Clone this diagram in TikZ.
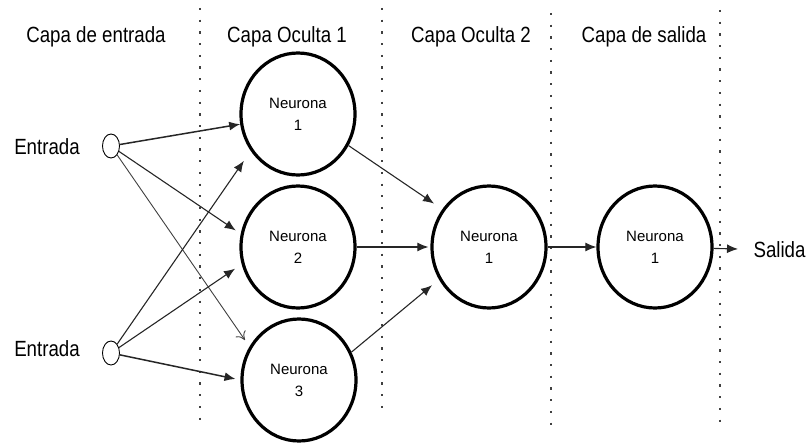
\documentclass[tikz,border=0pt]{standalone}
\usepackage{fontspec}
\setmainfont{Liberation Sans}
\newfontfamily\capafont[FakeStretch=0.85]{Liberation Sans}
\usetikzlibrary{arrows.meta,positioning,shapes.geometric}

\begin{document}
\begin{tikzpicture}[x=1pt, y=-1pt,
  neurona/.style={draw, ellipse, line width=3.2pt, minimum width=114pt, minimum height=122pt, inner sep=0pt, align=center, font=\fontsize{15}{22}\selectfont, text=black},
  entrada/.style={draw, ellipse, line width=0.9pt, minimum width=17pt, minimum height=24pt, inner sep=0pt},
  capa/.style={font=\capafont\fontsize{22}{26}\selectfont, text=black},
  sep/.style={line width=2.2pt, black!75, dash pattern=on 2.2pt off 9.5pt},
  flecha/.style={-{Latex[length=11pt, width=9pt]}, line width=1.1pt, black!85},
  fina/.style={-{To[length=8pt, width=12pt]}, line width=0.9pt, black!75}
]
\useasboundingbox (0,0) rectangle (808,444);
% separadores de capas
\draw[sep] (200,8) -- (200,428);
\draw[sep] (382,8) -- (382,415);
\draw[sep] (551,13) -- (551,432);
\draw[sep] (720,10) -- (720,428);
% titulos
\node[capa] (t0) at (96,37) {Capa de entrada};
\node[capa] (t1) at (287,37) {Capa Oculta 1};
\node[capa] (t2) at (471,37) {Capa Oculta 2};
\node[capa] (t3) at (644,37) {Capa de salida};
% entradas
\node[entrada] (in1) at (111,146) {};
\node[entrada] (in2) at (111,353) {};
\node[capa] (e1) at (47,147) {Entrada};
\node[capa] (e2) at (47,349) {Entrada};
% neuronas
\node[neurona] (n1) at (298,114) {Neurona\\1};
\node[neurona] (n2) at (298,247) {Neurona\\2};
\node[neurona] (n3) at (299,380) {Neurona\\3};
\node[neurona] (h1) at (489,247) {Neurona\\1};
\node[neurona] (o1) at (655,247) {Neurona\\1};
\node[capa, anchor=west] (sal) at (750,250) {Salida};
% conexiones
\draw[flecha, line width=1.5pt] (in1) -- (n1.190);
\draw[flecha, shorten >=6pt] (in1) -- (n2.167);
\draw[fina, shorten >=8pt] (in1) -- (n3.146);
\draw[flecha, shorten >=12pt] (in2) -- (n1.218);
\draw[flecha, shorten >=8pt] (in2) -- (n2.197);
\draw[flecha, line width=1.5pt, shorten >=5pt] (in2) -- (n3.west);
\draw[flecha, shorten >=10pt] (n1.-32) -- (h1.141);
\draw[flecha, shorten >=2pt] (n2) -- (h1);
\draw[flecha, shorten >=9pt] (n3.28) -- (h1.213);
\draw[flecha] (h1) -- (o1);
\draw[flecha, shorten >=12pt] (o1) -- (sal);
\end{tikzpicture}
\end{document}
